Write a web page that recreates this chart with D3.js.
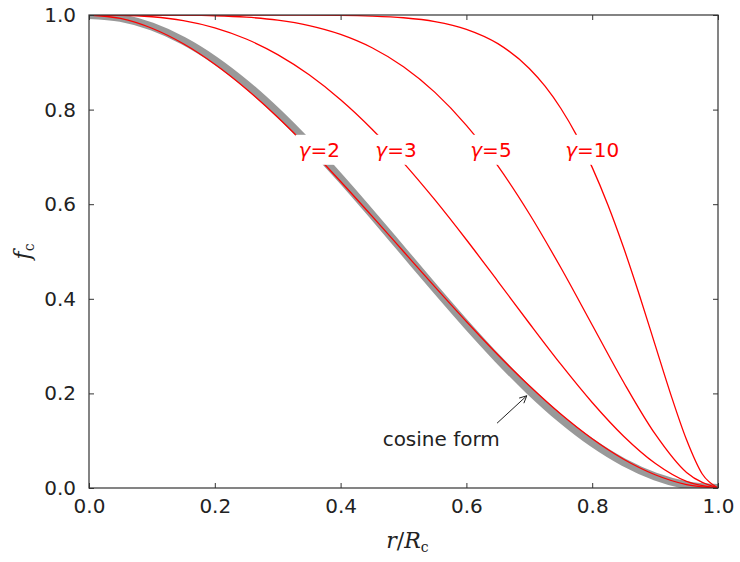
<!DOCTYPE html>
<html>
<head>
<meta charset="utf-8">
<script src="https://cdn.jsdelivr.net/npm/d3@7"></script>
<style>
  html, body { margin: 0; padding: 0; background: #fff; }
  svg { display: block; }
</style>
</head>
<body>
<div id="chart"></div>
<script>
// Radial grid r/Rc shared by the cosine and gamma = 2, 3, 5 curves
const rGrid = [0, 0.05, 0.1, 0.15, 0.2, 0.25, 0.3, 0.35, 0.4, 0.45, 0.5,
               0.55, 0.6, 0.65, 0.7, 0.75, 0.8, 0.85, 0.9, 0.95, 1.0];

const fCosine = [1, 0.99384, 0.97553, 0.94550, 0.90451, 0.85355, 0.79389, 0.72700, 0.65451, 0.57822, 0.5,
                 0.42178, 0.34549, 0.27300, 0.20611, 0.14645, 0.09549, 0.05450, 0.02447, 0.00616, 0];
const fGamma2 = [1, 0.99275, 0.972, 0.93925, 0.896, 0.84375, 0.784, 0.71825, 0.648, 0.57475, 0.5,
                 0.42525, 0.352, 0.28175, 0.216, 0.15625, 0.104, 0.06075, 0.028, 0.00725, 0];
const fGamma3 = [1, 0.99952, 0.9963, 0.98802, 0.9728, 0.94922, 0.9163, 0.87352, 0.8208, 0.75852, 0.6875,
                 0.60902, 0.5248, 0.43702, 0.3483, 0.26172, 0.1808, 0.10952, 0.0523, 0.01402, 0];
const fGamma5 = [1, 1.0, 0.99995, 0.9996, 0.9984, 0.99536, 0.98907, 0.97768, 0.95904, 0.9308, 0.89063,
                 0.83644, 0.76672, 0.68092, 0.57983, 0.46606, 0.34464, 0.22352, 0.11427, 0.03277, 0];

// The gamma = 10 curve falls steeply near the edge, so it has its own finer grid
const rGamma10 = [0, 0.1, 0.2, 0.3, 0.4, 0.45, 0.5, 0.55, 0.6, 0.65, 0.7, 0.725, 0.75, 0.775,
                  0.8, 0.825, 0.85, 0.875, 0.9, 0.925, 0.95, 0.975, 1.0];
const fGamma10 = [1, 1, 1, 0.99995, 0.99927, 0.99779, 0.99414, 0.98607, 0.96977, 0.93942, 0.88701, 0.84954,
                  0.8029, 0.74596, 0.67788, 0.59833, 0.50781, 0.40807, 0.30264, 0.19748, 0.1019, 0.02959, 0];

// Inline curve labels: gamma value and anchor position in data units
const gammaValues = ["2", "3", "5", "10"];
const gammaLabelR = [0.366, 0.488, 0.639, 0.800];
const gammaLabelF = [0.715, 0.715, 0.715, 0.715];

const xTicks = [0, 0.2, 0.4, 0.6, 0.8, 1.0];
const yTicks = [0, 0.2, 0.4, 0.6, 0.8, 1.0];

const W = 740, H = 562;
const margin = { left: 89, right: 22, top: 15, bottom: 74 };
const iw = W - margin.left - margin.right;
const ih = H - margin.top - margin.bottom;

const svg = d3.select("#chart").append("svg")
  .attr("width", W).attr("height", H);

const x = d3.scaleLinear().domain([0, 1]).range([0, iw]);
const y = d3.scaleLinear().domain([0, 1]).range([ih, 0]);

const g = svg.append("g").attr("transform", `translate(${margin.left},${margin.top})`);

g.append("clipPath").attr("id", "plot-clip")
  .append("rect").attr("width", iw).attr("height", ih);

const plot = g.append("g").attr("clip-path", "url(#plot-clip)");

const line = d3.line()
  .x(d => x(d[0]))
  .y(d => y(d[1]))
  .curve(d3.curveMonotoneX);

const zipPts = (rs, fs) => rs.map((r, i) => [r, fs[i]]);

// Thick grey cosine reference curve
plot.append("path")
  .datum(zipPts(rGrid, fCosine))
  .attr("d", line)
  .attr("fill", "none")
  .attr("stroke", "#999999")
  .attr("stroke-width", 8);

// Polynomial cutoff curves
const redSeries = [
  zipPts(rGrid, fGamma2),
  zipPts(rGrid, fGamma3),
  zipPts(rGrid, fGamma5),
  zipPts(rGamma10, fGamma10)
];
redSeries.forEach(pts => {
  plot.append("path")
    .datum(pts)
    .attr("d", line)
    .attr("fill", "none")
    .attr("stroke", "#ff0000")
    .attr("stroke-width", 1.3);
});

// Inline labels with white boxes that break the curves
gammaValues.forEach((val, i) => {
  const lg = g.append("g")
    .attr("transform", `translate(${x(gammaLabelR[i])},${y(gammaLabelF[i])})`);
  const t = lg.append("text")
    .attr("text-anchor", "middle")
    .attr("dy", "0.36em")
    .attr("font-family", "DejaVu Sans, sans-serif")
    .attr("font-size", 20)
    .attr("fill", "#ff0000");
  t.append("tspan").attr("font-style", "italic").text("γ");
  t.append("tspan").text("=" + val);
  const bb = t.node().getBBox();
  lg.insert("rect", "text")
    .attr("x", bb.x - 3).attr("y", -15)
    .attr("width", bb.width + 6).attr("height", 30)
    .attr("fill", "#fff");
});

// Arrow annotation pointing at the cosine curve
const arrowTail = [0.6487, 0.137];
const arrowHead = [0.696, 0.195];
const ax0 = x(arrowTail[0]), ay0 = y(arrowTail[1]);
const ax1 = x(arrowHead[0]), ay1 = y(arrowHead[1]);
g.append("line")
  .attr("x1", ax0).attr("y1", ay0).attr("x2", ax1).attr("y2", ay1)
  .attr("stroke", "#222").attr("stroke-width", 1);
const ang = Math.atan2(ay1 - ay0, ax1 - ax0);
const hl = 8, hw = 0.45;
g.append("path")
  .attr("d", `M${ax1 - hl * Math.cos(ang - hw)},${ay1 - hl * Math.sin(ang - hw)}L${ax1},${ay1}L${ax1 - hl * Math.cos(ang + hw)},${ay1 - hl * Math.sin(ang + hw)}`)
  .attr("fill", "none").attr("stroke", "#222").attr("stroke-width", 1);
g.append("text")
  .attr("x", x(0.56)).attr("y", y(0.089))
  .attr("text-anchor", "middle")
  .attr("font-family", "DejaVu Sans, sans-serif")
  .attr("font-size", 20)
  .attr("fill", "#222")
  .text("cosine form");

// Frame
g.append("rect")
  .attr("width", iw).attr("height", ih)
  .attr("fill", "none").attr("stroke", "#333").attr("stroke-width", 1.2);

// Inward ticks on all four sides
const tickLen = 5;
const fmt = d3.format(".1f");
const tickFont = { family: "DejaVu Sans, sans-serif", size: 20, fill: "#222" };

const xBottom = d3.axisBottom(x).tickValues(xTicks).tickSizeInner(-tickLen).tickSizeOuter(0).tickPadding(11).tickFormat(fmt);
const xTop = d3.axisTop(x).tickValues(xTicks).tickSizeInner(-tickLen).tickSizeOuter(0).tickFormat("");
const yLeft = d3.axisLeft(y).tickValues(yTicks).tickSizeInner(-tickLen).tickSizeOuter(0).tickPadding(13).tickFormat(fmt);
const yRight = d3.axisRight(y).tickValues(yTicks).tickSizeInner(-tickLen).tickSizeOuter(0).tickFormat("");

function styleAxis(sel) {
  sel.select(".domain").remove();
  sel.selectAll(".tick line").attr("stroke", "#333").attr("stroke-width", 1);
  sel.selectAll(".tick text")
    .attr("font-family", tickFont.family)
    .attr("font-size", tickFont.size)
    .attr("fill", tickFont.fill);
}
g.append("g").attr("transform", `translate(0,${ih})`).call(xBottom).call(styleAxis);
g.append("g").call(xTop).call(styleAxis);
g.append("g").call(yLeft).call(styleAxis);
g.append("g").attr("transform", `translate(${iw},0)`).call(yRight).call(styleAxis);

// Axis titles
const xt = svg.append("text")
  .attr("x", margin.left + iw / 2 + 4)
  .attr("y", 548)
  .attr("text-anchor", "middle")
  .attr("font-family", "DejaVu Serif, serif")
  .attr("font-size", 22)
  .attr("fill", "#222");
xt.append("tspan").attr("font-style", "italic").text("r");
xt.append("tspan").text("/");
xt.append("tspan").attr("font-style", "italic").text("R");
xt.append("tspan").attr("font-size", 14).attr("dy", 4).text("c");

const yt = svg.append("text")
  .attr("transform", `translate(30,${margin.top + ih / 2}) rotate(-90)`)
  .attr("text-anchor", "middle")
  .attr("font-family", "DejaVu Serif, serif")
  .attr("font-size", 22)
  .attr("fill", "#222");
yt.append("tspan").attr("font-style", "italic").text("f");
yt.append("tspan").attr("font-size", 14).attr("dy", 4).text("c");
</script>
</body>
</html>
